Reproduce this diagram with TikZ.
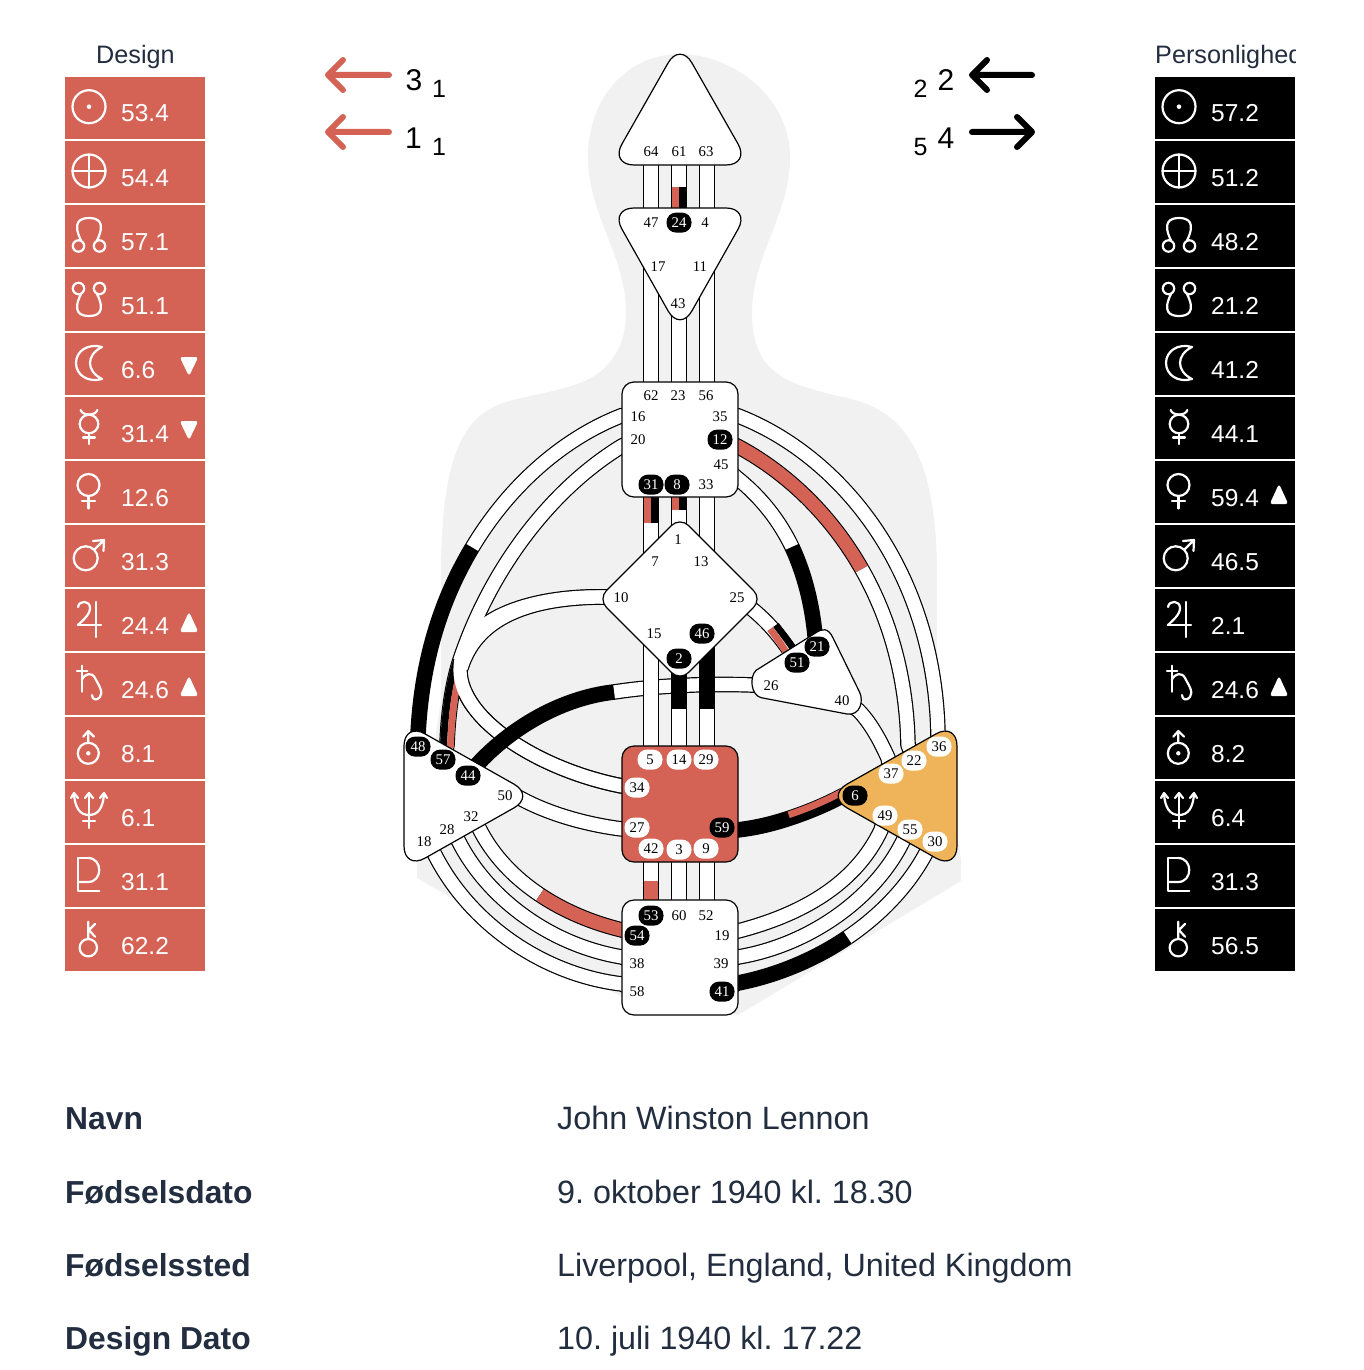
\documentclass[tikz,border=0pt]{standalone}
\usepackage{fontspec}
\setmainfont{Liberation Sans}
\newfontfamily\gatefont{Liberation Serif}
\frenchspacing
\definecolor{hdred}{HTML}{D46356}
\definecolor{hdorange}{HTML}{EFB45A}
\definecolor{hdgray}{HTML}{F1F1F1}
\definecolor{hdnavy}{HTML}{222D3F}
\tikzset{
  chout/.style={draw=black,line width=15.6pt,line join=round},
  chin/.style={draw=white,line width=13.2pt,line join=round},
  chred/.style={draw=hdred,line width=13.4pt},
  chblk/.style={draw=black,line width=15.6pt},
  halfred/.style={draw=hdred,line width=6.8pt},
  halfblk/.style={draw=black,line width=6.8pt},
  center/.style={draw=black,line width=1.2pt,fill=white,line join=round},
  gbase/.style={font=\gatefont\fontsize{14.8}{14.8}\selectfont,minimum width=25pt,minimum height=20pt,inner sep=0pt,rounded corners=9.5pt,yshift=-0.6pt},
  gt/.style={gbase,text=black},
  gb/.style={gbase,fill=black,text=white},
  gw/.style={gbase,fill=white,text=black},
  val/.style={font=\fontsize{24.5}{24.5}\selectfont,text=white,anchor=base west,inner sep=0pt},
  sym/.style={draw=white,line width=2.2pt,line cap=round,line join=round},
  title/.style={font=\fontsize{25.2}{25.2}\selectfont,text=hdnavy,inner sep=0pt,anchor=base west},
  big/.style={font=\fontsize{30}{30}\selectfont,text=black,inner sep=0pt,anchor=base},
  small/.style={font=\fontsize{25}{25}\selectfont,text=black,inner sep=0pt,anchor=base},
  infol/.style={font=\bfseries\fontsize{31.8}{31.8}\selectfont,text=hdnavy,inner sep=0pt,anchor=base west},
  infov/.style={font=\fontsize{32.3}{32.3}\selectfont,text=hdnavy,inner sep=0pt,anchor=base west},
  arrowline/.style={line width=6pt,line cap=round,line join=round},
}
\newcommand\chw[1]{\draw[chout] #1; \draw[chin] #1;}
\def\gtlist{64/651/151,61/679/151,63/706/151,47/651/222,4/705/222,17/658/266,11/700/266,43/678/303,
 62/651/395,23/678/395,56/706/395,16/638/416,35/720/416,20/638/439,45/721/464,33/706/484,
 1/678/539,7/655/561,13/701/561,10/621/597,25/737/597,15/654/633,
 26/771/685,40/842/700,50/505/795,32/471/816,28/447/829,18/424/841,
 60/679/915,52/706/915,19/722/935,38/637/963,39/721/963,58/637/991}
\def\gblist{24/679/222,12/720/439,31/651/484,8/677/484,46/702/633,2/679/658,21/817/646,51/797/662,
 48/418/746,57/443/759,44/468/775,59/722/827,53/651/915,54/637/935,41/722/991,6/855/795}
\def\gwlist{5/650/759,14/679/759,29/706/759,34/637/787,27/637/827,42/651/848,3/679/849,9/706/848,
 36/939/746,22/914/760,37/891/773,49/885/815,55/910/829,30/935/841}
\def\vlist{64/651/160,47/651/215,61/679/160,24/679/215,63/707/160,4/707/215,
 17/651/240,62/651/390,43/679/300,23/679/390,11/707/240,56/707/390,
 31/651/490,7/651/570,8/679/490,1/679/530,33/707/490,13/707/570,
 15/651/620,5/651/752,2/679/660,14/679/752,46/707/640,29/707/752,
 42/651/855,53/651/905,3/679/855,60/679/905,9/707/855,52/707/905}
\begin{document}
\begin{tikzpicture}[x=1pt,y=-1pt]
\useasboundingbox (0,0) rectangle (1364,1370);
\fill[white] (0,0) rectangle (1364,1370);
% coordinates
\foreach \n/\x/\y in \gtlist {\coordinate (c\n) at (\x,\y);}
\foreach \n/\x/\y in \gblist {\coordinate (c\n) at (\x,\y);}
\foreach \n/\x/\y in \gwlist {\coordinate (c\n) at (\x,\y);}
\foreach \n/\x/\y in \vlist {\coordinate (v\n) at (\x,\y);}
% body
\fill[hdgray] (680,54) .. controls (630,54) and (588,95) .. (588,157)
  .. controls (588,215) and (626,255) .. (626,313)
  .. controls (626,345) and (612,362) .. (600,372)
  .. controls (580,388) and (545,392) .. (513,400)
  .. controls (470,411) and (441,440) .. (441,577)
  -- (441,700) -- (417,860) -- (417,878) -- (622,997) -- (738,1015) -- (961,881) -- (961,860) -- (937,703) -- (937,577)
  .. controls (937,430) and (890,405) .. (833,395)
  .. controls (815,390) and (790,385) .. (773,370)
  .. controls (760,360) and (752,340) .. (752,313)
  .. controls (752,255) and (790,215) .. (790,157)
  .. controls (790,95) and (730,54) .. (680,54) -- cycle;
% integration group
\coordinate (e20) at (622,446); \coordinate (e10) at (605,597);
\draw[chout] (c20) -- (e20) .. controls (550,490) and (490,570) .. (460,660) .. controls (452,685) and (448,715) .. (447,745) -- (c57);
\draw[chout] (c10) -- (e10) .. controls (540,597) and (478,612) .. (461,668);
\draw[chout] (c10) -- (e10) .. controls (540,595) and (460,615) .. (460,670) .. controls (460,720) and (540,770) .. (622,786) -- (c34);
\draw[chin] (c20) -- (e20) .. controls (550,490) and (490,570) .. (460,660) .. controls (452,685) and (448,715) .. (447,745) -- (c57);
\draw[halfblk] (456.6,660) .. controls (448.6,685) and (444.6,715) .. (443.6,748);
\draw[halfred] (463.4,660) .. controls (455.4,685) and (451.4,715) .. (450.4,748);
\draw[chout] (465.1,692.4) .. controls (484,734.2) and (552.3,772.4) .. (622,786);
\draw[chin] (c10) -- (e10) .. controls (540,597) and (478,612) .. (461,668);
\draw[chin] (c10) -- (e10) .. controls (540,595) and (460,615) .. (460,670) .. controls (460,720) and (540,770) .. (622,786) -- (c34);
% 16-48
\chw{(c16) -- (622,415.5) .. controls (565.4,437.4) and (510.7,483.3) .. (472.2,547.6)}
\draw[chblk] (472.2,547.6) .. controls (441.9,598.1) and (421.5,659.6) .. (418,735) -- (c48);
% 35-36
\chw{(c35) -- (737,415.5) .. controls (840,455) and (935,570) .. (938,735) -- (c36)}
% 12-22
\draw[chblk] (c12) -- (737,446) .. controls (782.65,470.2) and (828.9,511.3) .. (861.8,569.2);
\draw[chred] (c12) -- (737,446) .. controls (782.65,470.2) and (828.9,511.3) .. (861.8,569.2);
\chw{(861.8,569.2) .. controls (888.7,616.6) and (906.65,675.25) .. (908,745) -- (c22)}
% 45-21
\chw{(c45) -- (737,478) .. controls (762,498) and (780,522) .. (792,547)}
\draw[chblk] (792,547) .. controls (805,575) and (812,605) .. (815,635) -- (c21);
% 25-51
\chw{(c25) -- (752,609) .. controls (768,622) and (782,638) .. (c51)}
\draw[halfblk] (775.9,625) .. controls (781,632) and (787,639) .. (794,650);
\draw[halfred] (770.1,629) .. controls (775,636) and (781,643) .. (787,654);
% 40-37
\chw{(c40) -- (858,710) .. controls (870,722) and (880,740) .. (888,758) -- (c37)}
% 32-54
\chw{(c32) -- (479,828) .. controls (492.5,855) and (513.9,877.5) .. (540,894.9)}
\draw[chblk] (540,894.9) .. controls (564.1,911) and (592.2,922.8) .. (622,930) -- (c54);
\draw[chred] (540,894.9) .. controls (564.1,911) and (592.2,922.8) .. (622,930) -- (c54);
% 28-38, 18-58
\chw{(c28) -- (458,840) .. controls (487,898) and (550,945) .. (622,957) -- (c38)}
\chw{(c18) -- (434,853) .. controls (470,925) and (545,975) .. (622,984) -- (c58)}
% 19-49, 39-55, 41-30
\chw{(c49) -- (881,830) .. controls (855,885) and (800,915) .. (738,931) -- (c19)}
\chw{(c55) -- (903,841) .. controls (875,898) and (810,945) .. (738,957) -- (c39)}
\chw{(c30) -- (926,853) .. controls (908,886.5) and (880.25,915.25) .. (847.4,937.5)}
\draw[chblk] (847.4,937.5) .. controls (814.5,959.75) and (776.5,975.5) .. (738,983) -- (c41);
% 27-50
\chw{(c50) -- (518,797) .. controls (550,815) and (590,825) .. (622,829) -- (c27)}
% 59-6
\draw[chblk] (c59) -- (737,830) .. controls (755,828) and (772,824) .. (790,818) .. controls (808,812) and (825,805) .. (842,796) -- (c6);
\draw[halfred] (788.6,814.8) .. controls (806.6,808.8) and (823.6,801.8) .. (842,792);
% 26-44
\chw{(c26) -- (763,685.5) .. controls (715,683) and (660,685) .. (614,692)}
\draw[chblk] (614,692) .. controls (560,698) and (505,730) .. (c44);
% verticals
\chw{(v64) -- (v47)}
\chw{(v61) -- (v24)}
\chw{(v63) -- (v4)}
\chw{(v17) -- (v62)}
\chw{(v43) -- (v23)}
\chw{(v11) -- (v56)}
\chw{(v31) -- (v7)}
\chw{(v8) -- (v1)}
\chw{(v33) -- (v13)}
\chw{(v15) -- (v5)}
\chw{(v2) -- (v14)}
\chw{(v46) -- (v29)}
\chw{(v42) -- (v53)}
\chw{(v3) -- (v60)}
\chw{(v9) -- (v52)}
\coordinate (t24) at (679,187); \coordinate (t31) at (651,523); \coordinate (t8) at (679,510);
\coordinate (t2) at (679,709); \coordinate (t46) at (707,709); \coordinate (t42) at (651,881);
\draw[halfred] ([xshift=-3.4pt]t24) -- ([xshift=-3.4pt]v24);
\draw[halfblk] ([xshift=3.4pt]t24) -- ([xshift=3.4pt]v24);
\draw[halfred] ([xshift=-3.4pt]t31) -- ([xshift=-3.4pt]v31);
\draw[halfblk] ([xshift=3.4pt]t31) -- ([xshift=3.4pt]v31);
\draw[halfred] ([xshift=-3.4pt]t8) -- ([xshift=-3.4pt]v8);
\draw[halfblk] ([xshift=3.4pt]t8) -- ([xshift=3.4pt]v8);
\draw[chblk] (v2) -- (t2);
\draw[chblk] (v46) -- (t46);
\draw[chred] (t42) -- (v53);
% centres
\draw[center,rounded corners=24pt] (680,42) -- (750,165) -- (610,165) -- cycle;
\draw[center,rounded corners=24pt] (610,208) -- (750,208) -- (680,332) -- cycle;
\draw[center,rounded corners=12pt] (622,382) rectangle (738,497);
\draw[center,rounded corners=12pt] (680,517) -- (762,599) -- (680,681) -- (598,599) -- cycle;
\draw[center] (815.2,633.2) .. controls (822,628.5) and (828,627) .. (833.2,638.3)
  -- (859.5,692) .. controls (864,701) and (860,716) .. (847,714)
  -- (761.3,697.7) .. controls (751,695.5) and (749,677) .. (756.1,670.3) -- cycle;
\draw[center,rounded corners=24pt] (404,722) -- (535,796) -- (404,870) -- cycle;
\draw[center,fill=hdorange,rounded corners=24pt] (957,722) -- (826,796) -- (957,870) -- cycle;
\draw[center,fill=hdred,rounded corners=12pt] (622,746) rectangle (738,862);
\draw[center,rounded corners=12pt] (622,900) rectangle (738,1015);
% gates
\foreach \n/\x/\y in \gtlist {\node[gt] (g\n) at (\x,\y) {\n};}
\foreach \n/\x/\y in \gblist {\node[gb] (g\n) at (\x,\y) {\n};}
\foreach \n/\x/\y in \gwlist {\node[gw] (g\n) at (\x,\y) {\n};}
% panels
\foreach \i in {0,...,13} {
  \fill[hdred] (65,77+64*\i) rectangle (205,139+64*\i);
  \fill[black] (1155,77+64*\i) rectangle (1295,139+64*\i);
}
\foreach \i/\v in {0/53.4,1/54.4,2/57.1,3/51.1,4/6.6,5/31.4,6/12.6,7/31.3,8/24.4,9/24.6,10/8.1,11/6.1,12/31.1,13/62.2}
  {\node[val] (dv\i) at (121,122+64*\i) {\v};}
\foreach \i/\v in {0/57.2,1/51.2,2/48.2,3/21.2,4/41.2,5/44.1,6/59.4,7/46.5,8/2.1,9/24.6,10/8.2,11/6.4,12/31.3,13/56.5}
  {\node[val] (pv\i) at (1211,122+64*\i) {\v};}
% planet glyphs
\foreach \dx in {0,1090} {
\begin{scope}[xshift=\dx pt]
 % sun
 \draw[sym] (89,106.7) circle (16.5pt); \fill[white] (89,106.7) circle (2.3pt);
 % earth
 \draw[sym] (89,171) circle (16.5pt); \draw[sym] (72.5,171) -- (105.5,171) (89,154.5) -- (89,187.5);
 % north node
 \draw[sym] (78.5,246) circle (5.7pt) (99.5,246) circle (5.7pt);
 \draw[sym] (81,240.5) .. controls (72,222) and (80,218) .. (89,218) .. controls (98,218) and (106,222) .. (97,240.5);
 % south node
 \draw[sym] (78.5,288.5) circle (5.7pt) (99.5,288.5) circle (5.7pt);
 \draw[sym] (81,294) .. controls (72,312) and (80,316) .. (89,316) .. controls (98,316) and (106,312) .. (97,294);
 % moon
 \draw[sym] (102,347) .. controls (88,343) and (76,351) .. (76,363) .. controls (76,375) and (88,383) .. (102,379)
   .. controls (94,375) and (90,369) .. (90,363) .. controls (90,357) and (94,351) .. (102,347) -- cycle;
 % mercury
 \draw[sym] (89,424) circle (9.3pt);
 \draw[sym] (80.7,410) .. controls (82,416) and (96,416) .. (97.3,410);
 \draw[sym] (89,433.5) -- (89,444) (83,437.5) -- (95,437.5);
 % venus
 \draw[sym] (88.5,485) circle (11pt);
 \draw[sym] (88.5,496) -- (88.5,508.5) (82,500.7) -- (95,500.7);
 % mars
 \draw[sym] (85.7,558.3) circle (12pt);
 \draw[sym] (94.5,549.5) -- (104,540) (93,541) -- (104,540) -- (103.5,551);
 % jupiter
 \draw[sym] (96,602) -- (96,637) (78,625) -- (101,625);
 \draw[sym] (78,607) .. controls (79,600) and (90,600) .. (90,608) .. controls (90,615) and (82,621) .. (78,625);
 % saturn
 \draw[sym] (81.7,665.7) -- (81.7,691.7) (77,670.7) -- (87.3,670.7);
 \draw[sym] (81.7,680) .. controls (85,673) and (92,672) .. (95,678) .. controls (98,684) and (104,692) .. (100,697) .. controls (97,701) and (92,700) .. (92,695);
 % uranus
 \draw[sym] (88.3,753.3) circle (10.5pt); \fill[white] (88.3,753.3) circle (2.2pt);
 \draw[sym] (88.3,731) -- (88.3,743) (83.3,736.7) -- (88.3,731) -- (94,736.7);
 % neptune
 \draw[sym] (89,793) -- (89,828) (83,821) -- (95,821);
 \draw[sym] (85,798) -- (89,793) -- (93,798);
 \draw[sym] (74,794) .. controls (75,808) and (80,815) .. (89,815) .. controls (98,815) and (103,808) .. (104,794);
 \draw[sym] (71,798) -- (74,793) -- (78,798) (100,798) -- (104,793) -- (107,798);
 % pluto
 \draw[sym] (88,858) -- (78,858) -- (78,891) -- (99.3,891);
 \draw[sym] (88,858) .. controls (103,858) and (103,882) .. (88,882) -- (78,882);
 % chiron
 \draw[sym] (88.3,947.7) circle (8.7pt);
 \draw[sym] (88.3,939) -- (88.3,921.7) (95,924) -- (89,930) -- (95,936.7);
\end{scope}
}
% motion triangles
\foreach \yy in {333,397} {\fill[white,draw=white,line width=1pt,rounded corners=2pt] (180.5,\yy+24.5) -- (197.5,\yy+24.5) -- (189,\yy+42) -- cycle;}
\foreach \yy in {589,653} {\fill[white,draw=white,line width=1pt,rounded corners=2pt] (180.5,\yy+42.5) -- (197.5,\yy+42.5) -- (189,\yy+24) -- cycle;}
\foreach \yy in {461,653} {\fill[white,draw=white,line width=1pt,rounded corners=2pt] (1270.5,\yy+42.5) -- (1287.5,\yy+42.5) -- (1279,\yy+24) -- cycle;}
% titles
\node[title] (tdesign) at (96,63.5) {Design};
\begin{scope}
 \clip (1100,30) rectangle (1295,76);
 \node[title] (tperson) at (1155,63.5) {Personlighed};
\end{scope}
% arrows and numbers
\coordinate (ar1a) at (389,75); \coordinate (ar1b) at (328,75);
\coordinate (ar2a) at (389,132); \coordinate (ar2b) at (328,132);
\coordinate (ar3a) at (1032,75); \coordinate (ar3b) at (972,75);
\coordinate (ar4a) at (972,132); \coordinate (ar4b) at (1032,132);
\draw[arrowline,hdred] (ar1a) -- (ar1b) ([shift={(15,-15)}]ar1b) -- (ar1b) -- ([shift={(15,15)}]ar1b);
\draw[arrowline,hdred] (ar2a) -- (ar2b) ([shift={(15,-15)}]ar2b) -- (ar2b) -- ([shift={(15,15)}]ar2b);
\draw[arrowline,black] (ar3a) -- (ar3b) ([shift={(15,-15)}]ar3b) -- (ar3b) -- ([shift={(15,15)}]ar3b);
\draw[arrowline,black] (ar4a) -- (ar4b) ([shift={(-15,-15)}]ar4b) -- (ar4b) -- ([shift={(-15,15)}]ar4b);
\node[big] (n1) at (414,91) {3};
\node[small] (n2) at (439,98) {1};
\node[big] (n3) at (413.5,148) {1};
\node[small] (n4) at (439,155) {1};
\node[small] (n5) at (920.5,98) {2};
\node[big] (n6) at (946,91) {2};
\node[small] (n7) at (920.5,155) {5};
\node[big] (n8) at (946,148) {4};
% info
\node[infol] (l1) at (65,1129) {Navn};
\node[infol] (l2) at (65,1203) {Fødselsdato};
\node[infol] (l3) at (65,1276) {Fødselssted};
\node[infol] (l4) at (65,1349) {Design Dato};
\node[infov] (i1) at (557,1129) {John Winston Lennon};
\node[infov] (i2) at (557,1203) {9. oktober 1940 kl. 18.30};
\node[infov] (i3) at (557,1276) {Liverpool, England, United Kingdom};
\node[infov] (i4) at (557,1349) {10. juli 1940 kl. 17.22};
\end{tikzpicture}
\end{document}
